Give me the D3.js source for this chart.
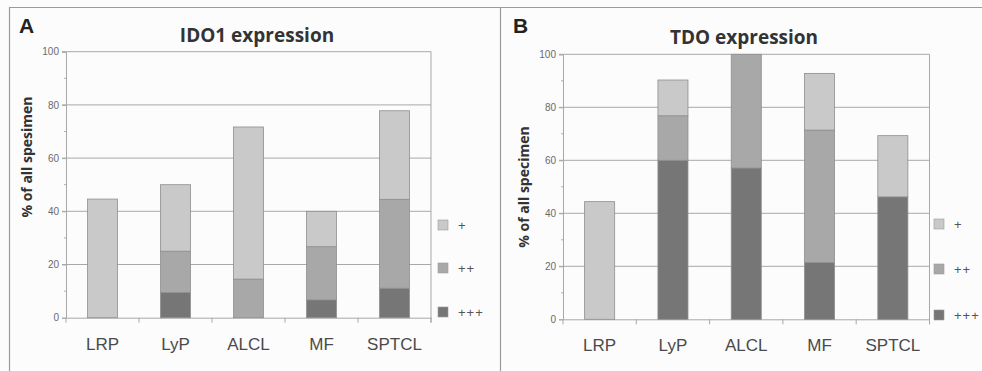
<!DOCTYPE html>
<html><head><meta charset="utf-8">
<script src="https://cdn.jsdelivr.net/npm/d3@7"></script>
<style>body{margin:0;background:#fff}svg{display:block}</style>
</head><body>
<svg id="c" width="982" height="371"></svg>
<script>
const categories = ["LRP", "LyP", "ALCL", "MF", "SPTCL"];
const seriesNames = ["+++", "++", "+"];
const legendLabels = ["+", "++", "+++"];
const yTicks = [0, 20, 40, 60, 80, 100];
// IDO1 expression (% of specimens)
const ido1_p3 = [0, 9.5, 0, 6.7, 11.1];
const ido1_p2 = [0, 15.5, 14.5, 20.0, 33.4];
const ido1_p1 = [44.6, 25.0, 57.2, 13.3, 33.3];
// TDO expression (% of specimens)
const tdo_p3 = [0, 60.0, 57.1, 21.4, 46.2];
const tdo_p2 = [0, 16.8, 42.9, 50.0, 0];
const tdo_p1 = [44.4, 13.5, 0, 21.4, 23.1];

const colors = {"+++": "#767676", "++": "#a8a8a8", "+": "#c9c9c9"};
const svg = d3.select("#c");

svg.append("rect").attr("width", 982).attr("height", 371).attr("fill", "#fcfcfc");
// outer frame lines
svg.append("line").attr("x1", 9).attr("x2", 982).attr("y1", 7.5).attr("y2", 7.5).attr("stroke", "#9a9a9a").attr("stroke-width", 1.2);
svg.append("line").attr("x1", 9.5).attr("x2", 9.5).attr("y1", 7).attr("y2", 371).attr("stroke", "#9a9a9a").attr("stroke-width", 1.2);
svg.append("line").attr("x1", 500.5).attr("x2", 500.5).attr("y1", 7).attr("y2", 371).attr("stroke", "#9a9a9a").attr("stroke-width", 1.2);

function panel(cfg) {
  const g = svg.append("g");
  const table = categories.map((c, i) => ({cat: c, "+++": cfg.p3[i], "++": cfg.p2[i], "+": cfg.p1[i]}));
  const stack = d3.stack().keys(seriesNames)(table);
  const x = d3.scaleBand().domain(categories).range([cfg.left, cfg.right]).paddingInner(0).paddingOuter(0);
  const y = d3.scaleLinear().domain([0, 100]).range([cfg.bottom, cfg.top]);
  const barW = x.bandwidth() * 0.41;

  // gridlines
  g.selectAll(".grid").data(yTicks.filter(t => t > 0)).join("line")
    .attr("x1", cfg.left - 4).attr("x2", cfg.right)
    .attr("y1", d => y(d)).attr("y2", d => y(d))
    .attr("stroke", "#a8a8a8").attr("stroke-width", 1);

  // y axis
  const ya = g.append("g").attr("transform", `translate(${cfg.left},0)`)
    .call(d3.axisLeft(y).tickValues(yTicks).tickSize(4).tickPadding(3).tickFormat(d3.format("d")));
  ya.select(".domain").attr("stroke", "#a8a8a8");
  ya.selectAll(".tick line").attr("stroke", "#a8a8a8");
  ya.selectAll("text").attr("fill", "#6a6a6a").style("font-family", "Liberation Sans, Arial, sans-serif").style("font-size", "10px");
  // minor ticks
  g.selectAll(".minor").data([10, 30, 50, 70, 90]).join("line")
    .attr("x1", cfg.left - 2).attr("x2", cfg.left)
    .attr("y1", d => y(d)).attr("y2", d => y(d)).attr("stroke", "#b0b0b0");

  // right border
  g.append("line").attr("x1", cfg.right).attr("x2", cfg.right).attr("y1", cfg.top).attr("y2", cfg.bottom + 5).attr("stroke", "#a8a8a8");

  // x axis
  const xa = g.append("g").attr("transform", `translate(0,${cfg.bottom})`)
    .call(d3.axisBottom(x).tickSize(0).tickPadding(20));
  xa.select(".domain").attr("stroke", "#a8a8a8");
  xa.selectAll("text").attr("fill", "#4a4a4a").style("font-family", "Liberation Sans, Arial, sans-serif").style("font-size", "17px");
  const bounds = categories.map(c => x(c)).concat([cfg.right]);
  g.selectAll(".xt").data(bounds).join("line")
    .attr("x1", d => d).attr("x2", d => d).attr("y1", cfg.bottom).attr("y2", cfg.bottom + 5)
    .attr("stroke", "#a8a8a8");

  // bars
  g.selectAll(".layer").data(stack).join("g")
    .attr("fill", d => colors[d.key])
    .selectAll("rect").data(d => d).join("rect")
    .attr("x", d => x(d.data.cat) + (x.bandwidth() - barW) / 2)
    .attr("width", barW)
    .attr("y", d => y(d[1]))
    .attr("height", d => Math.max(0, y(d[0]) - y(d[1])))
    .attr("stroke", d => (d[1] - d[0]) > 0 ? "#8e8e8e" : "none")
    .attr("stroke-width", 0.8);

  // legend
  const lg = g.append("g");
  legendLabels.forEach((k, i) => {
    lg.append("rect").attr("x", cfg.legX).attr("y", cfg.legY[i] - 5).attr("width", 10).attr("height", 10)
      .attr("fill", colors[k]).attr("stroke", "#999").attr("stroke-width", 0.6);
    lg.append("text").attr("x", cfg.legX + 20).attr("y", cfg.legY[i] + 4.5).text(k)
      .attr("fill", "#555").style("font-family", "Liberation Sans, Arial, sans-serif").style("font-size", "13px")
      .style("letter-spacing", "1px");
  });

  // title
  g.append("text").attr("x", cfg.titleX).attr("y", cfg.titleY).attr("text-anchor", "middle")
    .text(cfg.title).attr("fill", "#333").style("font-family", "Open Sans, Liberation Sans, sans-serif")
    .style("font-weight", "bold").style("font-size", "19px");
  // panel letter
  g.append("text").attr("x", cfg.letterX).attr("y", 33).text(cfg.letter)
    .attr("fill", "#222").style("font-family", "Liberation Sans, Arial, sans-serif")
    .style("font-weight", "bold").style("font-size", "21px");
  // y label
  g.append("text").attr("transform", `translate(${cfg.ylabX},${cfg.ylabY}) rotate(-90)`)
    .attr("text-anchor", "middle").text(cfg.ylab).attr("fill", "#333")
    .style("font-family", "Open Sans, Liberation Sans, sans-serif").style("font-weight", "bold").style("font-size", "14px");
}

panel({p3: ido1_p3, p2: ido1_p2, p1: ido1_p1, left: 66, right: 431, top: 51.7, bottom: 317.7,
  legX: 438, legY: [225, 268, 312], title: "IDO1 expression", titleX: 257, titleY: 42,
  letter: "A", letterX: 19, ylab: "% of all spesimen", ylabX: 32, ylabY: 157});
panel({p3: tdo_p3, p2: tdo_p2, p1: tdo_p1, left: 563, right: 929.5, top: 54.3, bottom: 319.3,
  legX: 934, legY: [224, 269, 315], title: "TDO expression", titleX: 744, titleY: 44,
  letter: "B", letterX: 513, ylab: "% of all specimen", ylabX: 529, ylabY: 187});
</script>
</body></html>
